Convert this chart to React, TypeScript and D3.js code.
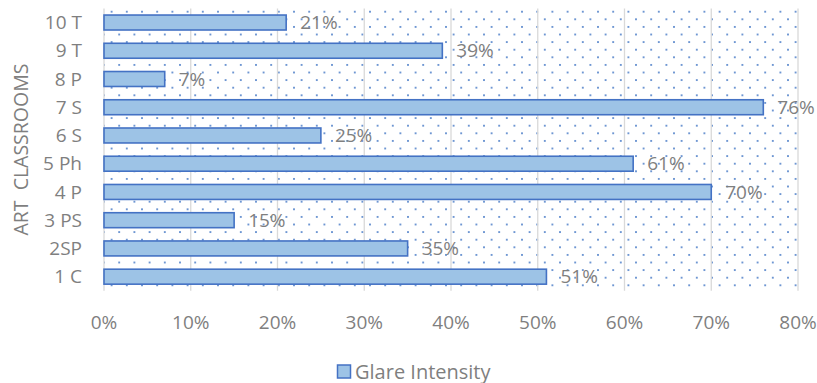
import React from "react";
import * as d3 from "d3";

const categories = ["10 T", "9 T", "8 P", "7 S", "6 S", "5 Ph", "4 P", "3 PS", "2SP", "1 C"];
const glareValues = [21, 39, 7, 76, 25, 61, 70, 15, 35, 51];
const xTicks = [0, 10, 20, 30, 40, 50, 60, 70, 80];
const seriesName = "Glare Intensity";
const axisTitle = "ART  CLASSROOMS";

const W = 817;
const H = 383;
const left = 104;
const right = 798;
const top = 8.4;
const bottom = 290.8;
const FONT = "'Open Sans', sans-serif";
const TEXT = "#7f7f7f";

export default function App() {
  const x = d3.scaleLinear().domain([0, 80]).range([left, right]);
  const y = d3.scaleBand<string>().domain(categories).range([top, bottom]).paddingInner(0.47).paddingOuter(0.235);

  return (
    <svg width={W} height={H} style={{ position: "absolute", left: 0, top: 0, display: "block" }}>
      <defs>
        <pattern id="dots" patternUnits="userSpaceOnUse" width={15.2} height={15.2} x={100.2} y={0.3}>
          <circle cx={3.8} cy={3.8} r={1.0} fill="#4a7cc7" />
          <circle cx={11.4} cy={11.4} r={1.0} fill="#4a7cc7" />
        </pattern>
      </defs>
      <rect x={0} y={0} width={W} height={H} fill="#ffffff" />
      <rect x={left} y={top} width={right - left} height={bottom - top} fill="url(#dots)" />
      {xTicks.map((t) => (
        <line key={t} x1={x(t)} x2={x(t)} y1={top} y2={bottom} stroke="#d9d9d9" strokeWidth={1.3} />
      ))}
      {categories.map((c, i) => (
        <g key={c}>
          <rect
            x={x(0)}
            y={y(c)!}
            width={x(glareValues[i]) - x(0)}
            height={y.bandwidth()}
            fill="#9dc3e6"
            stroke="#4472c4"
            strokeWidth={1.6}
          />
          <text
            x={x(glareValues[i]) + 14}
            y={y(c)! + y.bandwidth() / 2}
            dy="0.35em"
            fontFamily={FONT}
            fontSize={19}
            fill={TEXT}
          >
            {glareValues[i]}%
          </text>
          <text
            x={82}
            y={y(c)! + y.bandwidth() / 2}
            dy="0.35em"
            textAnchor="end"
            fontFamily={FONT}
            fontSize={19}
            fill={TEXT}
          >
            {c}
          </text>
        </g>
      ))}
      {xTicks.map((t) => (
        <text key={t} x={x(t)} y={322} dy="0.35em" textAnchor="middle" fontFamily={FONT} fontSize={19} fill={TEXT}>
          {t}%
        </text>
      ))}
      <text
        transform={`translate(21, ${(top + bottom) / 2}) rotate(-90)`}
        textAnchor="middle"
        dy="0.35em"
        fontFamily={FONT}
        fontSize={19.5}
        fill={TEXT}
        style={{ whiteSpace: "pre" }}
      >
        {axisTitle}
      </text>
      <rect x={337.5} y={365} width={13} height={13} fill="#9dc3e6" stroke="#4472c4" strokeWidth={1.5} />
      <text x={355} y={371.5} dy="0.35em" fontFamily={FONT} fontSize={20} fill={TEXT}>
        {seriesName}
      </text>
    </svg>
  );
}
